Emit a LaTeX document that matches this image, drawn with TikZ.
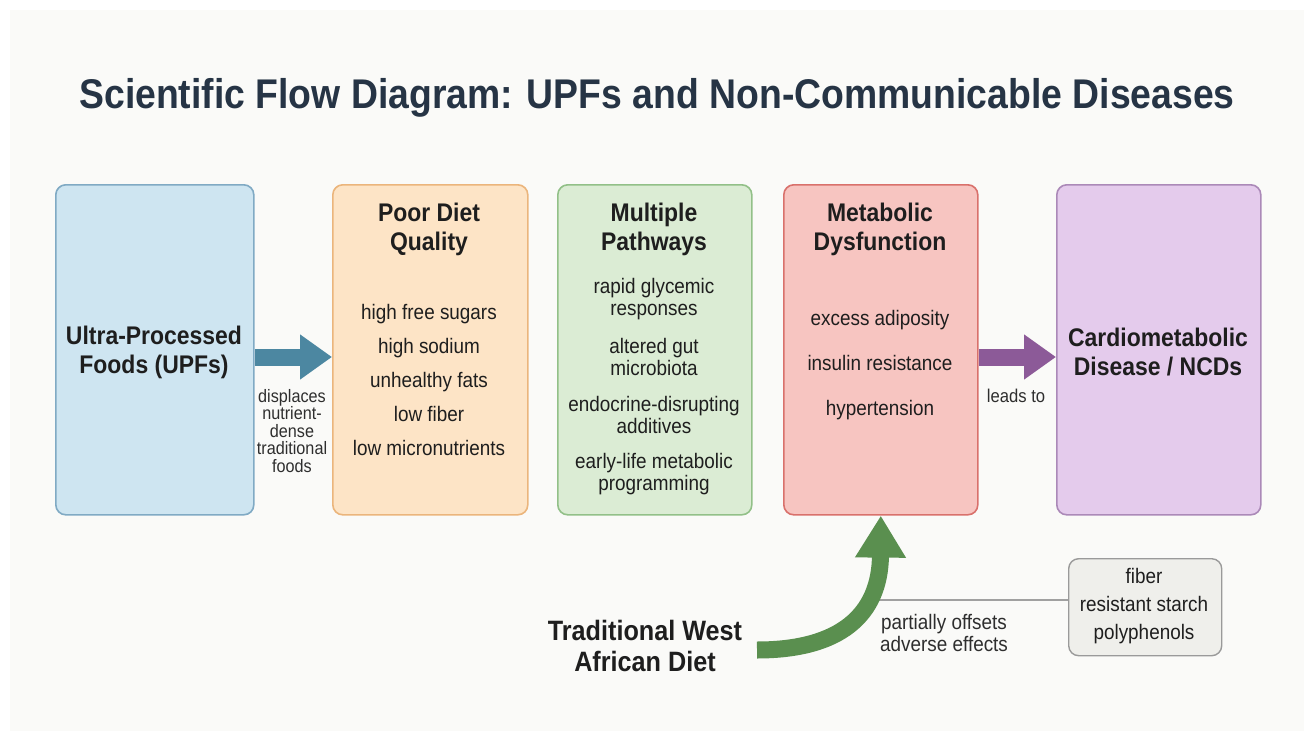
\documentclass[tikz,border=0pt]{standalone}
\usepackage{fontspec}
\setmainfont{Liberation Sans}[FakeStretch=0.9]
\usetikzlibrary{arrows.meta}
\definecolor{bgc}{HTML}{FAFAF8}
\definecolor{titlec}{HTML}{263445}
\definecolor{txt}{HTML}{1E1E1E}
\definecolor{lbl}{HTML}{2E2E2E}
\definecolor{b1f}{HTML}{CEE5F1}\definecolor{b1d}{HTML}{80AAC4}
\definecolor{b2f}{HTML}{FDE4C6}\definecolor{b2d}{HTML}{EBB57C}
\definecolor{b3f}{HTML}{DBECD4}\definecolor{b3d}{HTML}{92C088}
\definecolor{b4f}{HTML}{F7C5C1}\definecolor{b4d}{HTML}{D9716C}
\definecolor{b5f}{HTML}{E4CBEC}\definecolor{b5d}{HTML}{AB89B8}
\definecolor{b6f}{HTML}{EFEFEB}\definecolor{b6d}{HTML}{9A9A9A}
\definecolor{arblue}{HTML}{4C87A1}
\definecolor{arpurple}{HTML}{8C5A98}
\definecolor{argreen}{HTML}{5A8F4F}
\definecolor{linegray}{HTML}{A0A0A0}
\begin{document}
\begin{tikzpicture}[x=1pt,y=-1pt,
  box/.style={rounded corners=10pt, line width=1.6pt, anchor=north west, inner sep=0pt, minimum height=330pt},
  boxtitle/.style={align=center, text=txt, inner sep=0pt, font=\fontsize{25.5}{29}\selectfont\bfseries},
  items/.style={align=center, text=txt, inner sep=0pt, font=\fontsize{21}{#1}\selectfont},
  items/.default=34,
  lab/.style={align=center, text=lbl, inner sep=0pt, font=\fontsize{18}{17.5}\selectfont},
  fatarrow/.style={line width=17pt, -{Triangle[width=43pt,length=32pt]}}
]
\useasboundingbox (0,0) rectangle (1314,741);
\fill[white] (0,0) rectangle (1314,741);
\fill[bgc] (10,10) rectangle (1304,731);

% title
\node[text=titlec, inner sep=0pt, font=\fontsize{41.5}{45}\selectfont\bfseries] (title) at (657,98) {Scientific Flow Diagram: UPFs and Non-Communicable Diseases};

% boxes
\node[box, fill=b1f, draw=b1d, minimum width=198pt] (upf) at (55,184) {};
\node[box, fill=b2f, draw=b2d, minimum width=195pt] (poor) at (332,184) {};
\node[box, fill=b3f, draw=b3d, minimum width=194pt] (path) at (557,184) {};
\node[box, fill=b4f, draw=b4d, minimum width=194pt] (meta) at (783,184) {};
\node[box, fill=b5f, draw=b5d, minimum width=204pt] (ncd) at (1056,184) {};
\node[box, fill=b6f, draw=b6d, line width=1.4pt, minimum width=153pt, minimum height=97pt] (nutr) at (1068,558) {};

% box texts
\node[boxtitle] (upft) at (154,352) {Ultra-Processed\\Foods (UPFs)};
\node[boxtitle] (poort) at (429,229) {Poor Diet\\Quality};
\node[items] (poori) at (429,380) {high free sugars\\high sodium\\unhealthy fats\\low fiber\\low micronutrients};
\node[boxtitle] (patht) at (654,229) {Multiple\\Pathways};
\node[items=22] (path1) at (654,299) {rapid glycemic\\responses};
\node[items=22] (path2) at (654,357) {altered gut\\microbiota};
\node[items=22] (path3) at (654,415) {endocrine-disrupting\\additives};
\node[items=22] (path4) at (654,474) {early-life metabolic\\programming};
\node[boxtitle] (metat) at (880,229) {Metabolic\\Dysfunction};
\node[items=45] (metai) at (880,365) {excess adiposity\\insulin resistance\\hypertension};
\node[boxtitle] (ncdt) at (1158,352) {Cardiometabolic\\Disease / NCDs};
\node[items=28] (nutri) at (1144,606) {fiber\\resistant starch\\polyphenols};

% diet
\node[align=center, text=txt, inner sep=0pt, font=\fontsize{28}{31}\selectfont\bfseries] (diet) at (645,646) {Traditional West\\African Diet};

% arrows
\draw[fatarrow, arblue] (upf.east |- 0,357) -- (poor.west |- 0,357);
\draw[fatarrow, arpurple] (meta.east |- 0,357) -- (ncd.west |- 0,357);
\node[lab] (displ) at (292,431) {displaces\\nutrient-\\dense\\traditional\\foods};
\node[lab, font=\fontsize{18.5}{20}\selectfont] (leads) at (1016,396) {leads to};

% gray link line and green curved arrow
\coordinate (gstart) at (872,600);
\draw[linegray, line width=2pt] (gstart) -- (nutr.west |- gstart);
\coordinate (tail) at (757,650);
\draw[line width=17pt, argreen, -{Triangle[width=48pt,length=42pt]}] (tail) .. controls (840,650) and (880,615) .. (meta.south);
\node[lab, font=\fontsize{21}{22}\selectfont] (offs) at (944,633) {partially offsets\\adverse effects};
\end{tikzpicture}
\end{document}
